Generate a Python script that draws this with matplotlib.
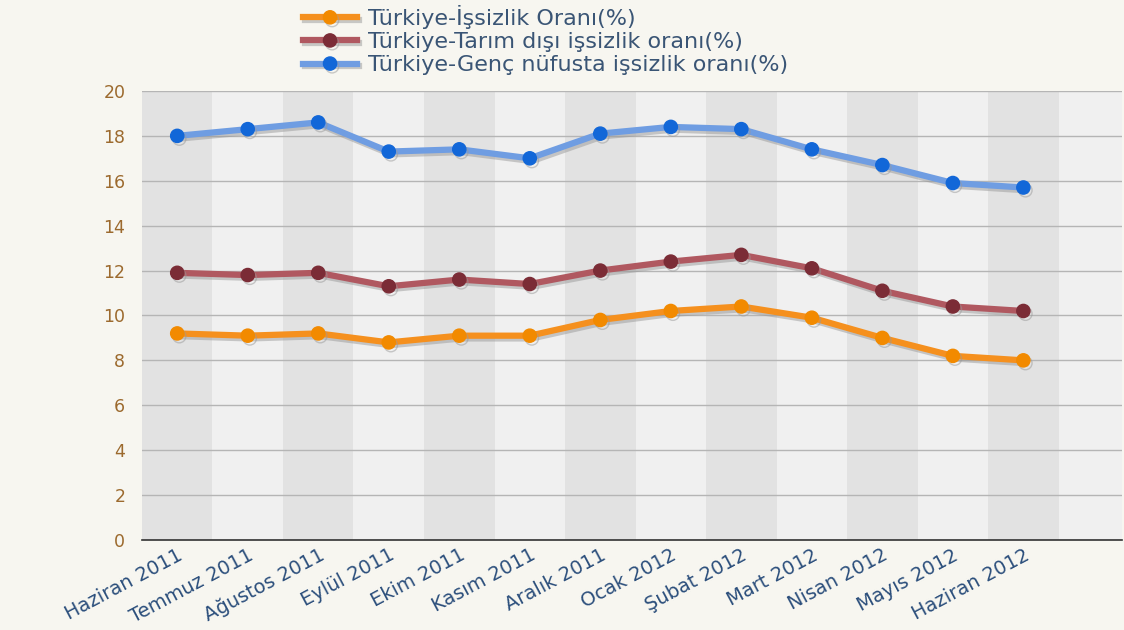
import matplotlib
matplotlib.use("Agg")
import matplotlib.pyplot as plt
import matplotlib.patheffects as pe
import numpy as np

months = ["Haziran 2011", "Temmuz 2011", "Ağustos 2011", "Eylül 2011", "Ekim 2011",
          "Kasım 2011", "Aralık 2011", "Ocak 2012", "Şubat 2012", "Mart 2012",
          "Nisan 2012", "Mayıs 2012", "Haziran 2012"]
issizlik = [9.2, 9.1, 9.2, 8.8, 9.1, 9.1, 9.8, 10.2, 10.4, 9.9, 9.0, 8.2, 8.0]
tarim_disi = [11.9, 11.8, 11.9, 11.3, 11.6, 11.4, 12.0, 12.4, 12.7, 12.1, 11.1, 10.4, 10.2]
genc = [18.0, 18.3, 18.6, 17.3, 17.4, 17.0, 18.1, 18.4, 18.3, 17.4, 16.7, 15.9, 15.7]
labels = ["Türkiye-İşsizlik Oranı(%)", "Türkiye-Tarım dışı işsizlik oranı(%)",
          "Türkiye-Genç nüfusta işsizlik oranı(%)"]
yticks = [0, 2, 4, 6, 8, 10, 12, 14, 16, 18, 20]

bg = "#F7F6F0"
fig = plt.figure(figsize=(11.24, 6.3), dpi=100, facecolor=bg)
ax = fig.add_axes([0.1263, 0.1429, 0.872, 0.7127])
ax.set_facecolor("#F0F0F0")

x = np.arange(len(months))
ax.set_xlim(-0.5, 13.4)
ax.set_ylim(0, 20)

for i in range(0, 14, 2):
    ax.axvspan(i - 0.5, i + 0.5, color="#E2E2E2", zorder=0, lw=0)

ax.set_yticks(yticks)
ax.yaxis.grid(True, color="#B5B5B5", lw=1.0, zorder=1)
ax.set_axisbelow(True)
for s in ["top", "right", "left"]:
    ax.spines[s].set_visible(False)
ax.spines["bottom"].set_color("#333333")
ax.spines["bottom"].set_linewidth(1.2)
ax.tick_params(axis="both", length=0)
ax.tick_params(axis="y", pad=12, labelsize=12.5, labelcolor="#9C6A2E")

ax.set_xticks(x)
ax.set_xticklabels(months, rotation=28, ha="right", rotation_mode="anchor",
                   fontsize=14, color="#2C4F7C")
ax.tick_params(axis="x", pad=4)

series = [
    (issizlik, "#F5901E", "#F28A00"),
    (tarim_disi, "#B05860", "#7B2C36"),
    (genc, "#6F9DE2", "#1267D8"),
]
shadow = [pe.SimpleLineShadow(offset=(1.5, -2), shadow_color="#999999", alpha=0.5), pe.Normal()]
handles = []
for (vals, lc, mc), lab in zip(series, labels):
    h, = ax.plot(x, vals, color=lc, lw=4.5, marker="o", markersize=9.5,
                 markerfacecolor=mc, markeredgecolor=mc, label=lab, zorder=3,
                 path_effects=shadow, clip_on=False)
    handles.append(h)

leg = fig.legend(handles=handles, labels=labels, loc="upper left",
                 bbox_to_anchor=(0.262, 1.006), frameon=False, fontsize=16,
                 handlelength=2.4, labelspacing=0.14, handletextpad=0.5,
                 borderaxespad=0)
for t in leg.get_texts():
    t.set_color("#3A5575")

fig.savefig("out.png", dpi=100, facecolor=bg)
